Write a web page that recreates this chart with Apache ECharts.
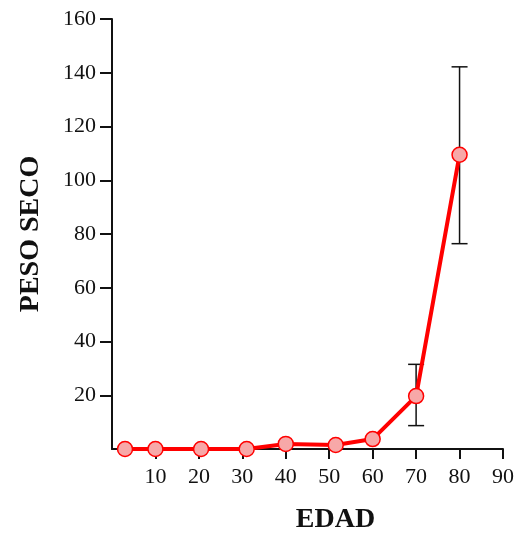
<!DOCTYPE html>
<html>
<head>
<meta charset="utf-8">
<script src="https://cdn.jsdelivr.net/npm/echarts@6/dist/echarts.min.js"></script>
<style>
  html, body { margin: 0; padding: 0; background: #fff; }
  #chart { width: 515px; height: 533px; }
</style>
</head>
<body>
<div id="chart"></div>
<script>
// edades y peso seco medio
var edad = [3, 10, 20.5, 31, 40, 51.5, 60, 70, 80];
var pesoSeco = [0, 0, 0, 0, 1.9, 1.5, 3.7, 19.7, 109.5];
// barras de error (solo 70 y 80)
var errEdad = [70, 80];
var errBajo = [8.7, 76.4];
var errAlto = [31.5, 142.2];
var xTicks = [10, 20, 30, 40, 50, 60, 70, 80, 90];
var yTicks = [20, 40, 60, 80, 100, 120, 140, 160];

var chart = echarts.init(document.getElementById('chart'));
var serif = 'Liberation Serif';

var option = {
  animation: false,
  grid: { left: 112, right: 12, top: 19, bottom: 84, outerBoundsMode: 'none' },
  xAxis: {
    type: 'value',
    min: 0,
    max: 90,
    name: 'EDAD',
    nameLocation: 'middle',
    nameGap: 57,
    nameTextStyle: {
      fontFamily: serif, fontSize: 28, fontWeight: 'bold', color: '#111',
      padding: [0, 0, 0, 56]
    },
    splitLine: { show: false },
    axisLine: { lineStyle: { color: '#111', width: 2 } },
    axisTick: { customValues: xTicks, length: 10, lineStyle: { color: '#111', width: 2 } },
    axisLabel: { customValues: xTicks, margin: 17, fontFamily: serif, fontSize: 22, color: '#111' }
  },
  yAxis: {
    type: 'value',
    min: 0,
    max: 160,
    name: 'PESO SECO',
    nameLocation: 'middle',
    nameGap: 67,
    nameTextStyle: { fontFamily: serif, fontSize: 28, fontWeight: 'bold', color: '#111' },
    splitLine: { show: false },
    axisLine: { show: true, lineStyle: { color: '#111', width: 2 } },
    axisTick: { show: true, customValues: yTicks, length: 12, lineStyle: { color: '#111', width: 2 } },
    axisLabel: { customValues: yTicks, margin: 16, fontFamily: serif, fontSize: 22, color: '#111' }
  },
  series: [
    {
      type: 'custom',
      z: 1,
      data: errEdad.map(function (e, i) { return [e, errBajo[i], errAlto[i]]; }),
      renderItem: function (params, api) {
        var lo = api.coord([api.value(0), api.value(1)]);
        var hi = api.coord([api.value(0), api.value(2)]);
        var w = 8;
        var st = { stroke: '#111', lineWidth: 1.5 };
        return {
          type: 'group',
          children: [
            { type: 'line', shape: { x1: lo[0], y1: lo[1], x2: hi[0], y2: hi[1] }, style: st },
            { type: 'line', shape: { x1: lo[0] - w, y1: lo[1], x2: lo[0] + w, y2: lo[1] }, style: st },
            { type: 'line', shape: { x1: hi[0] - w, y1: hi[1], x2: hi[0] + w, y2: hi[1] }, style: st }
          ]
        };
      }
    },
    {
      type: 'line',
      z: 2,
      data: edad.map(function (e, i) { return [e, pesoSeco[i]]; }),
      symbol: 'circle',
      symbolSize: 15,
      lineStyle: { color: '#ff0000', width: 4 },
      itemStyle: { color: '#f7a8a8', borderColor: '#ff0000', borderWidth: 1.5 }
    }
  ]
};

chart.setOption(option);
</script>
</body>
</html>
